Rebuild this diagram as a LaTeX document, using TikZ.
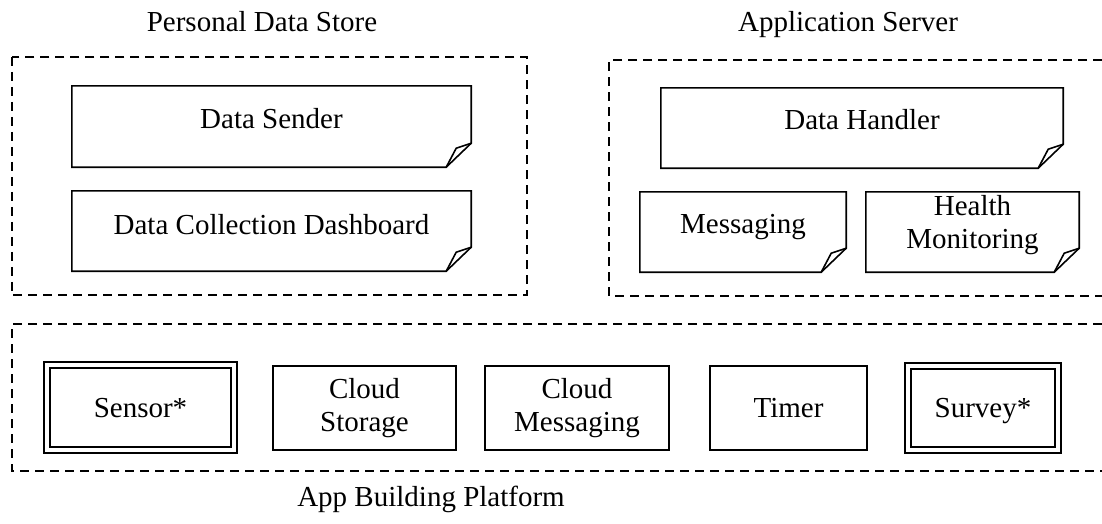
\documentclass[tikz,border=0pt]{standalone}
\usepackage{fontspec}
\setmainfont{Liberation Serif}
\newcommand\drawnote[1]{%
  \draw[noteline] (#1.north west) -- (#1.north east) -- ([yshift=24pt]#1.south east)
    -- ([xshift=-25pt]#1.south east) -- (#1.south west) -- cycle;
  \draw[noteline] ([yshift=24pt]#1.south east) -- ([xshift=-15pt,yshift=19pt]#1.south east)
    -- ([xshift=-25pt]#1.south east);}
\newcommand\drawouter[1]{%
  \draw[outerline] ([shift={(-5pt,5pt)}]#1.north west) rectangle ([shift={(5pt,-5pt)}]#1.south east);}
\begin{document}
\begin{tikzpicture}[x=1pt,y=-1pt,
  lbl/.style={font=\fontsize{29}{33}\selectfont, align=center, inner sep=0pt},
  oneline/.style={text height=19pt, text depth=0pt},
  sz/.style 2 args={minimum width=#1pt, minimum height=#2pt},
  note/.style={lbl},
  noteline/.style={draw=black, line width=1.6pt, line join=miter},
  plainbox/.style={lbl, draw=black, line width=1.6pt},
  dblbox/.style={lbl, draw=black, line width=2.2pt},
  outerline/.style={draw=black, line width=1.3pt},
  group/.style={draw=black, line width=2pt, dash pattern=on 9pt off 6pt}]
\useasboundingbox[fill=white] (0,0) rectangle (1102,523);

% titles
\node[lbl, anchor=base] (tpds) at (262,31) {Personal Data Store};
\node[lbl, anchor=base] (tas) at (848,31) {Application Server};
\node[lbl, anchor=base] (tabp) at (431,506) {App Building Platform};

% group frames
\node[sz={515}{238}, inner sep=0pt] (pds) at (269.5,176) {};
\draw[group] (pds.north west) rectangle (pds.south east);
\coordinate (asTR) at (1102,60);
\coordinate (asTL) at (609,60);
\coordinate (asBL) at (609,296);
\coordinate (asBR) at (1102,296);
\draw[group] (asTR) -- (asTL) -- (asBL) -- (asBR);
\coordinate (abTR) at (1102,324);
\coordinate (abTL) at (12,324);
\coordinate (abBL) at (12,471);
\coordinate (abBR) at (1102,471);
\draw[group] (abTR) -- (abTL) -- (abBL) -- (abBR);

% notes
\node[note, sz={399}{81}] (sender) at (271.5,126.5) {};
\node[lbl, oneline] at ([yshift=8pt]sender.center) {Data Sender};
\drawnote{sender}
\node[note, sz={399}{80}] (dash) at (271.5,231) {};
\node[lbl, oneline] at ([yshift=6pt]dash.center) {Data Collection Dashboard};
\drawnote{dash}
\node[note, sz={402}{80}] (handler) at (862,128) {};
\node[lbl, oneline] at ([yshift=8pt]handler.center) {Data Handler};
\drawnote{handler}
\node[note, sz={206}{80}] (msg) at (743,232) {};
\node[lbl, oneline] at ([yshift=8pt]msg.center) {Messaging};
\drawnote{msg}
\node[note, sz={213}{80}] (health) at (972.5,232) {};
\node[lbl] at ([yshift=7pt]health.center) {Health\\Monitoring};
\drawnote{health}

% platform components
\node[dblbox, oneline, sz={181}{79}] (sensor) at (140.5,407.5) {Sensor*};
\drawouter{sensor}
\node[plainbox, sz={183}{84}] (storage) at (364.5,408) {Cloud\\Storage};
\node[plainbox, sz={184}{84}] (cmsg) at (577,408) {Cloud\\Messaging};
\node[plainbox, oneline, sz={157}{84}] (timer) at (788.5,408) {Timer};
\node[dblbox, oneline, sz={144}{78}] (survey) at (983,408) {Survey*};
\drawouter{survey}
\end{tikzpicture}
\end{document}
